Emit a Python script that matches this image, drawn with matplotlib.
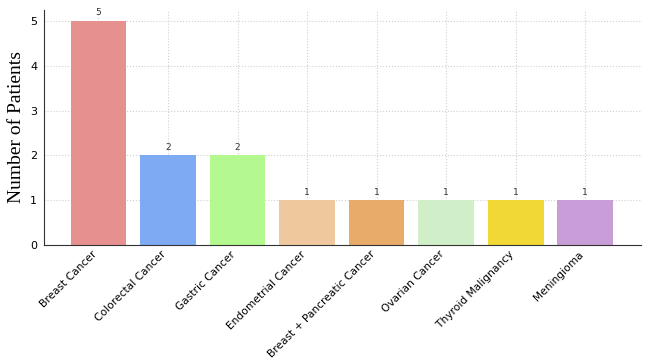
import matplotlib.pyplot as plt

# dados
cancer_types = ['Breast Cancer', 'Colorectal Cancer', 'Gastric Cancer', 'Endometrial Cancer',
                'Breast + Pancreatic Cancer', 'Ovarian Cancer', 'Thyroid Malignancy', 'Meningioma']
patients = [5, 2, 2, 1, 1, 1, 1, 1]
bar_colors = ['#e69090', '#7eaaf4', '#b3f98f', '#efc99d', '#e8ab6a', '#d0efc8', '#f2d834', '#c99ed8']

fig = plt.figure(figsize=(6.5, 3.64), dpi=100)
ax = fig.add_axes([0.068, 0.327, 0.918, 0.646])

ax.grid(True, linestyle=':', color='#d0d0d0', linewidth=0.8)
ax.set_axisbelow(True)
x = range(len(cancer_types))
bars = ax.bar(x, patients, width=0.8, color=bar_colors, zorder=2)

for b, v in zip(bars, patients):
    ax.text(b.get_x() + b.get_width() / 2, v + 0.08, str(v),
            ha='center', va='bottom', fontsize=6.5, color='#333333')

ax.set_xlim(-0.78, 7.8)
ax.set_ylim(0, 5.25)
ax.set_xticks(list(x))
ax.set_xticklabels(cancer_types, rotation=45, ha='right', fontsize=7.7)
ax.tick_params(axis='x', direction='in', length=3, pad=3)
ax.tick_params(axis='y', length=0, labelsize=8, pad=5)
ax.set_ylabel('Number of Patients', family='Liberation Serif', fontsize=14)

for s in ['top', 'right']:
    ax.spines[s].set_visible(False)
for s in ['left', 'bottom']:
    ax.spines[s].set_color('#333333')

plt.savefig('out.png', dpi=100)
